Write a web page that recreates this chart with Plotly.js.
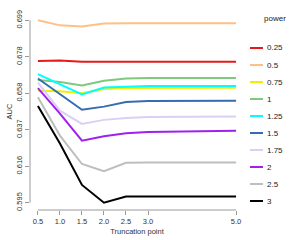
<!DOCTYPE html>
<html>
<head>
<meta charset="utf-8">
<script src="https://cdn.plot.ly/plotly-3.0.1.min.js"></script>
<style>html,body{margin:0;padding:0;background:#fff;}#chart{width:300px;height:240px;}</style>
</head>
<body>
<div id="chart"></div>
<script>
// Data
var truncation = [0.5, 1.0, 1.5, 2.0, 2.5, 3.0, 5.0];
var powers = ["0.25", "0.5", "0.75", "1", "1.25", "1.5", "1.75", "2", "2.5", "3"];
var auc_p025 = [0.6761, 0.6764, 0.6756, 0.6756, 0.6756, 0.6756, 0.6756];
var auc_p05  = [0.6994, 0.6965, 0.6959, 0.6975, 0.6977, 0.6977, 0.6977];
var auc_p075 = [0.6590, 0.6587, 0.6576, 0.6600, 0.6606, 0.6607, 0.6607];
var auc_p1   = [0.6651, 0.6640, 0.6620, 0.6647, 0.6660, 0.6663, 0.6663];
var auc_p125 = [0.6685, 0.6628, 0.6569, 0.6609, 0.6615, 0.6617, 0.6617];
var auc_p15  = [0.6660, 0.6571, 0.6481, 0.6499, 0.6525, 0.6531, 0.6533];
var auc_p175 = [0.6637, 0.6476, 0.6400, 0.6423, 0.6434, 0.6439, 0.6443];
var auc_p2   = [0.6605, 0.6459, 0.6304, 0.6329, 0.6346, 0.6354, 0.6360];
var auc_p25  = [0.6552, 0.6333, 0.6170, 0.6129, 0.6177, 0.6179, 0.6179];
var auc_p3   = [0.6503, 0.6287, 0.6050, 0.5948, 0.5984, 0.5984, 0.5984];
var seriesValues = [auc_p025, auc_p05, auc_p075, auc_p1, auc_p125, auc_p15, auc_p175, auc_p2, auc_p25, auc_p3];
var colors = ["#E41A1C", "#FDC086", "#F2EE00", "#7FC97F", "#00FFFF", "#386CB0", "#DCCFF6", "#A020F0", "#BEBEBE", "#000000"];
var xTickVals = [0.5, 1.0, 1.5, 2.0, 2.5, 3.0, 5.0];
var xTickText = ["0.5", "1.0", "1.5", "2.0", "2.5", "3.0", "5.0"];
var yTickVals = [0.5948, 0.6157, 0.6366, 0.6576, 0.6785, 0.6994];
var yTickText = ["0.595", "0.616", "0.637", "0.658", "0.678", "0.699"];

var FONT = "Liberation Sans, Arial, sans-serif";
var W = 300, H = 240, ML = 30, MR = 56, MT = 13, MB = 30;
var PW = W - ML - MR, PH = H - MT - MB;

var traces = seriesValues.map(function (vals, i) {
  return {
    x: truncation, y: vals, type: "scatter", mode: "lines", name: powers[i],
    line: {color: colors[i], width: 2}, showlegend: false, hoverinfo: "skip"
  };
});

var ymin = Math.min.apply(null, yTickVals), ymax = Math.max.apply(null, yTickVals);
var ypad = (ymax - ymin) * 0.04;
var xmin = truncation[0], xmax = truncation[truncation.length - 1];
var xpad = (xmax - xmin) * 0.04;

var shapes = [
  {type: "line", xref: "x", yref: "paper", x0: xTickVals[0], x1: xTickVals[xTickVals.length - 1], y0: 0, y1: 0, line: {color: "#9a9a9a", width: 1}},
  {type: "line", xref: "paper", yref: "y", x0: 0, x1: 0, y0: yTickVals[0], y1: yTickVals[yTickVals.length - 1], line: {color: "#9a9a9a", width: 1}}
];
var annotations = [
  {xref: "paper", yref: "paper", x: (275 - ML) / PW, y: (H - MB - 19) / PH, text: "power", showarrow: false, xanchor: "center", yanchor: "middle", font: {family: FONT, size: 8, color: "#222"}}
];
powers.forEach(function (p, i) {
  var py = 48 + 17 * i;
  var yp = (H - MB - py) / PH;
  shapes.push({type: "line", xref: "paper", yref: "paper", x0: (250 - ML) / PW, x1: (263 - ML) / PW, y0: yp, y1: yp, line: {color: colors[i], width: 2}});
  annotations.push({xref: "paper", yref: "paper", x: (265 - ML) / PW, y: yp, text: p, showarrow: false, xanchor: "left", yanchor: "middle", font: {family: FONT, size: 8, color: "#222"}});
});

var layout = {
  width: W, height: H,
  margin: {l: ML, r: MR, t: MT, b: MB, pad: 0},
  paper_bgcolor: "#fff", plot_bgcolor: "#fff",
  showlegend: false,
  font: {family: FONT, size: 7.5, color: "#333"},
  xaxis: {
    range: [xmin - xpad, xmax + xpad], showgrid: false, zeroline: false, showline: false,
    tickmode: "array", tickvals: xTickVals, ticktext: xTickText,
    ticks: "outside", ticklen: 4, tickcolor: "#9a9a9a", tickwidth: 1,
    tickfont: {family: FONT, size: 7.5, color: "#333"},
    title: {text: "Truncation point", font: {family: FONT, size: 7.5, color: "#333"}, standoff: 3}
  },
  yaxis: {
    range: [ymin - ypad, ymax + ypad], showgrid: false, zeroline: false, showline: false,
    tickmode: "array", tickvals: yTickVals, ticktext: yTickText, tickangle: -90,
    ticks: "outside", ticklen: 4, tickcolor: "#9a9a9a", tickwidth: 1,
    tickfont: {family: FONT, size: 7.5, color: "#333"},
    title: {text: "AUC", font: {family: FONT, size: 7.5, color: "#333"}, standoff: 1}
  },
  shapes: shapes,
  annotations: annotations
};

Plotly.newPlot("chart", traces, layout, {staticPlot: true, displayModeBar: false});
</script>
</body>
</html>
